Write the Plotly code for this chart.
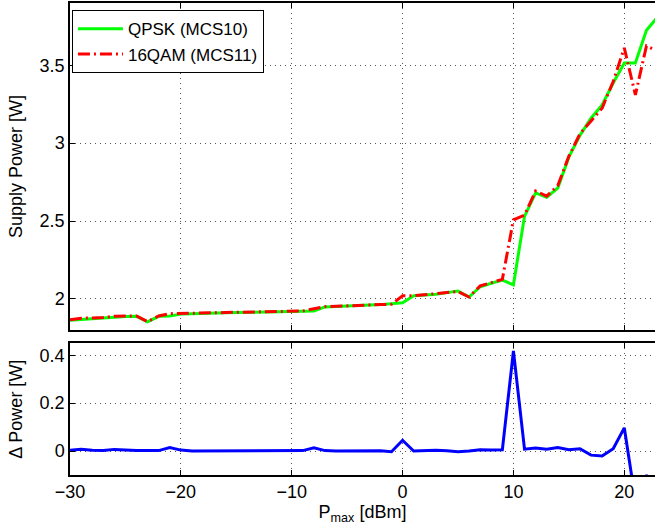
import plotly.graph_objects as go
from plotly.subplots import make_subplots

# ==============================================================================
# DATA
# ==============================================================================

P_MAX = list(range(-30, 24))  # dBm

QPSK_POWER = [
    1.862, 1.868, 1.874, 1.878, 1.882, 1.887, 1.888, 1.852, 1.888, 1.890,
    1.902, 1.905, 1.908, 1.910, 1.911, 1.912, 1.914, 1.915, 1.917, 1.919,
    1.921, 1.920, 1.922, 1.948, 1.952, 1.955, 1.957, 1.960, 1.963, 1.968,
    1.975, 2.020, 2.024, 2.030, 2.040, 2.050, 2.012, 2.078, 2.100, 2.120,
    2.090, 2.530, 2.680, 2.652, 2.712, 2.910, 3.050, 3.160, 3.246, 3.386,
    3.515, 3.515, 3.725, 3.810,
]

QAM16_POWER = [
    1.865, 1.876, 1.877, 1.880, 1.889, 1.890, 1.890, 1.854, 1.890, 1.905,
    1.906, 1.905, 1.908, 1.910, 1.912, 1.914, 1.915, 1.916, 1.917, 1.920,
    1.922, 1.922, 1.936, 1.950, 1.952, 1.956, 1.958, 1.962, 1.964, 1.965,
    2.020, 2.020, 2.026, 2.033, 2.041, 2.047, 2.012, 2.083, 2.104, 2.125,
    2.508, 2.538, 2.693, 2.660, 2.727, 2.916, 3.060, 3.143, 3.225, 3.396,
    3.612, 3.310, 3.625, 3.590,
]

DELTA_POWER = [
    0.003, 0.008, 0.003, 0.002, 0.007, 0.003, 0.002, 0.002, 0.002, 0.015,
    0.004, 0.000, 0.000, 0.000, 0.001, 0.002, 0.001, 0.001, 0.000, 0.001,
    0.001, 0.002, 0.014, 0.002, 0.000, 0.001, 0.001, 0.002, 0.001, -0.003,
    0.045, 0.000, 0.002, 0.003, 0.001, -0.003, 0.000, 0.005, 0.004, 0.005,
    0.418, 0.008, 0.013, 0.008, 0.015, 0.006, 0.010, -0.017, -0.021, 0.010,
    0.097, -0.205, -0.100, -0.220,
]

X_TICKS = [-30, -20, -10, 0, 10, 20]
TOP_Y_TICKS = [2, 2.5, 3, 3.5]
BOTTOM_Y_TICKS = [0, 0.2, 0.4]

# ==============================================================================
# FIGURE
# ==============================================================================

FONT = "Liberation Sans, Arial, Helvetica, sans-serif"
FS = 18

fig = make_subplots(rows=2, cols=1, shared_xaxes=True)

fig.add_trace(go.Scatter(
    x=P_MAX, y=QPSK_POWER, mode="lines", name="QPSK (MCS10)",
    line=dict(color="#00ff00", width=3)
), row=1, col=1)

fig.add_trace(go.Scatter(
    x=P_MAX, y=QAM16_POWER, mode="lines", name="16QAM (MCS11)",
    line=dict(color="#ff0000", width=3, dash="12px,4px,2px,4px")
), row=1, col=1)

fig.add_trace(go.Scatter(
    x=P_MAX, y=DELTA_POWER, mode="lines", showlegend=False,
    line=dict(color="#0000ff", width=3)
), row=2, col=1)

axis_style = dict(
    showline=True, linecolor="black", linewidth=1.5,
    ticks="inside", ticklen=5, tickcolor="black", tickwidth=1.2,
    showgrid=True, gridcolor="#555", griddash="1px,4px", gridwidth=1,
    zeroline=False, automargin=False,
    tickfont=dict(family=FONT, size=FS, color="black"),
)

fig.update_xaxes(**axis_style, range=[-30, 22.77], tickvals=X_TICKS, mirror="ticks")
fig.update_xaxes(showticklabels=False, row=1, col=1)
fig.update_xaxes(
    title=dict(text="P<sub>max</sub> [dBm]", font=dict(family=FONT, size=FS, color="black"),
               standoff=0),
    row=2, col=1)

fig.update_yaxes(**axis_style)
fig.update_yaxes(range=[1.8, 3.9], tickvals=TOP_Y_TICKS,
                 title=dict(text="Supply Power [W]", font=dict(family=FONT, size=FS, color="black"),
                            standoff=12),
                 row=1, col=1)
fig.update_yaxes(range=[-0.1, 0.45], tickvals=BOTTOM_Y_TICKS,
                 title=dict(text="\u0394 Power [W]", font=dict(family=FONT, size=FS, color="black"),
                            standoff=12),
                 row=2, col=1)

fig.update_layout(
    width=655, height=529,
    margin=dict(l=70, r=0, t=3, b=54),
    plot_bgcolor="white", paper_bgcolor="white",
    yaxis=dict(domain=[0.3072, 1.0]),
    yaxis2=dict(domain=[0.0, 0.279]),
    legend=dict(
        x=0.003, y=0.985, xanchor="left", yanchor="top",
        bgcolor="white", bordercolor="black", borderwidth=1.2,
        font=dict(family=FONT, size=17, color="black"),
        tracegroupgap=0, itemwidth=45,
    ),
    font=dict(family=FONT, color="black"),
)

fig.write_html("out.html", config={"displayModeBar": False},
               post_script="document.body.style.margin='0';")
